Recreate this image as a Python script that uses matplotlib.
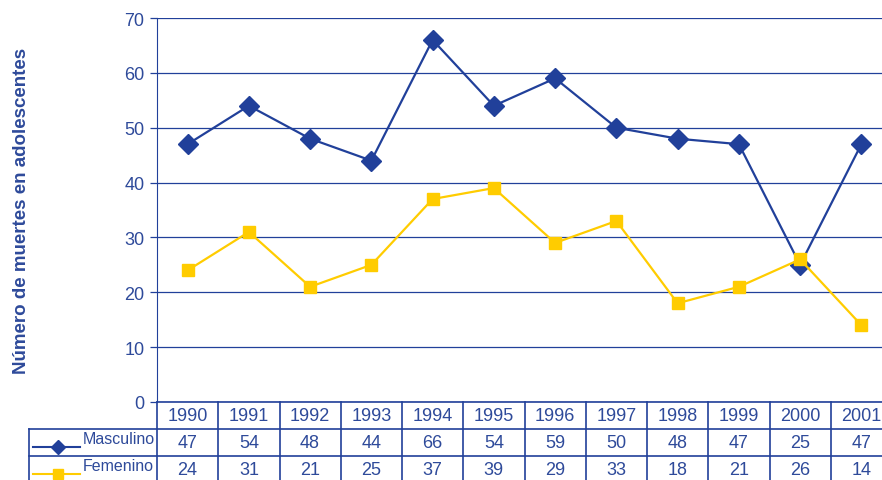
import matplotlib.pyplot as plt
from matplotlib.transforms import blended_transform_factory

plt.rcParams['font.family'] = ['Liberation Sans Narrow', 'Liberation Sans', 'DejaVu Sans']

YEARS = [1990, 1991, 1992, 1993, 1994, 1995, 1996, 1997, 1998, 1999, 2000, 2001]
MASCULINO = [47, 54, 48, 44, 66, 54, 59, 50, 48, 47, 25, 47]
FEMENINO = [24, 31, 21, 25, 37, 39, 29, 33, 18, 21, 26, 14]
SERIES_NAMES = ['Masculino', 'Femenino']

BLUE = '#21409a'
YELLOW = '#ffcc00'
TEXT = '#2e4a9a'

fig = plt.figure(figsize=(8.82, 4.81), dpi=100)
ax = fig.add_axes([157 / 882, 1 - 403 / 481, 735 / 882, 384 / 481])

x = list(range(len(YEARS)))
ax.plot(x, MASCULINO, color=BLUE, lw=1.6, marker='D', markersize=10.5, zorder=3)
ax.plot(x, FEMENINO, color=YELLOW, lw=1.6, marker='s', markersize=9, zorder=3)

ax.set_xlim(-0.5, len(YEARS) - 0.5)
ax.set_ylim(0, 70)
ax.set_yticks(range(0, 71, 10))
ax.yaxis.grid(True, color=BLUE, lw=0.9)
ax.set_axisbelow(True)
ax.set_xticks([])
for side in ['top', 'right', 'bottom']:
    ax.spines[side].set_visible(False)
ax.spines['left'].set_color(BLUE)
ax.tick_params(axis='y', colors=BLUE, labelcolor=TEXT, labelsize=13, length=5, width=0.9, pad=4)

ax.set_ylabel('Número de muertes en adolescentes', fontsize=13.5, fontweight='bold',
              color=TEXT, labelpad=68)

# ----- table under the chart -----
tr = blended_transform_factory(ax.transData, ax.transAxes)
row_h = 27 / 384
left = -2.59
right = len(YEARS) - 0.5
rows_y = [0, -row_h, -2 * row_h, -3.1 * row_h]

line_kw = dict(color=BLUE, lw=1.2, transform=tr, clip_on=False)
ax.plot([-0.5, right], [0, 0], **line_kw)
ax.plot([left, right], [rows_y[1], rows_y[1]], **line_kw)
ax.plot([left, right], [rows_y[2], rows_y[2]], **line_kw)
ax.plot([left, left], [rows_y[1], rows_y[3]], **line_kw)
for i in range(len(YEARS) + 1):
    ax.plot([i - 0.5, i - 0.5], [0, rows_y[3]], **line_kw)

for i, yr in enumerate(YEARS):
    ax.text(i, -0.5 * row_h, str(yr), transform=tr, ha='center', va='center',
            fontsize=13, color=TEXT)
    ax.text(i, -1.5 * row_h, str(MASCULINO[i]), transform=tr, ha='center', va='center',
            fontsize=13, color=TEXT)
    ax.text(i, -2.5 * row_h, str(FEMENINO[i]), transform=tr, ha='center', va='center',
            fontsize=13, color=TEXT)

# legend keys in the first column
for j, (name, col, mk) in enumerate(zip(SERIES_NAMES, [BLUE, YELLOW], ['D', 's'])):
    yy = -(1.5 + j) * row_h - 0.012
    ax.plot([-2.52, -1.75], [yy, yy], color=col, lw=1.5, transform=tr, clip_on=False)
    ax.plot([-2.12], [yy], color=col, marker=mk, markersize=7, transform=tr, clip_on=False)
    ax.text(-1.72, yy + 0.022, name, transform=tr, ha='left', va='center',
            fontsize=11.5, color=TEXT)

fig.savefig('out.png', dpi=100)
